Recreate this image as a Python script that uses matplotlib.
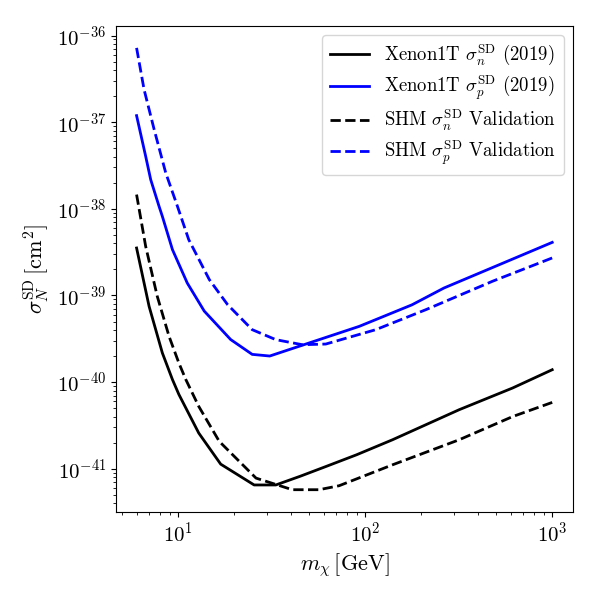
import numpy as np
import matplotlib
matplotlib.use("Agg")
import matplotlib.pyplot as plt

plt.rcParams['font.family'] = 'serif'
plt.rcParams['font.serif'] = ['cmr10', 'DejaVu Serif']
plt.rcParams['mathtext.fontset'] = 'cm'
plt.rcParams['axes.formatter.use_mathtext'] = True

# Xenon1T 2019 limits
m_xe_n = [6, 7.0, 8.24, 9.33, 10.1, 12.9, 16.9, 25.5, 33.3, 45, 61.6, 90, 140, 318, 614, 1000]
sig_xe_n = [3.53e-39, 7.48e-40, 2.17e-40, 1.07e-40, 7.2e-41, 2.58e-41, 1.13e-41,
            6.5e-42, 6.5e-42, 8.2e-42, 1.06e-41, 1.45e-41, 2.16e-41, 4.8e-41,
            8.55e-41, 1.39e-40]

m_xe_p = [6, 6.71, 7.14, 7.91, 8.24, 9.33, 11.2, 13.8, 19.1, 24.9, 30.9, 93, 178, 264, 1000]
sig_xe_p = [1.19e-37, 4.04e-38, 2.17e-38, 1.07e-38, 8.18e-39, 3.38e-39, 1.39e-39, 6.6e-40,
            3.1e-40, 2.09e-40, 2.0e-40, 4.4e-40, 7.8e-40, 1.22e-39, 4.1e-39]

# SHM validation runs
m_shm_n = [6, 6.71, 7.74, 8.95, 10.1, 11.0, 12.9, 16.6, 26.1, 40.8, 56.7, 72.6,
           140, 318, 614, 1000]
sig_shm_n = [1.46e-38, 3.69e-39, 9.77e-40, 3.37e-40, 1.66e-40, 1.07e-40, 5.24e-41,
             2.07e-41, 7.8e-42, 5.73e-42, 5.73e-42, 6.37e-42, 1.11e-41, 2.16e-41,
             4.0e-41, 5.83e-41]

m_shm_p = [6, 6.58, 7.45, 8.59, 9.92, 11.4, 14.7, 18.4, 24.9, 33.3, 46.2, 61.6,
           114, 211, 480, 1000]
sig_shm_p = [7.2e-37, 2.38e-37, 8.22e-38, 2.6e-38, 1.07e-38, 4.41e-39, 1.52e-39,
             7.83e-40, 4.03e-40, 3.09e-40, 2.7e-40, 2.75e-40, 4.03e-40, 6.85e-40,
             1.46e-39, 2.71e-39]

fig, ax = plt.subplots(figsize=(6, 6), dpi=100)
fig.subplots_adjust(left=0.193, right=0.955, top=0.957, bottom=0.147)

ax.plot(m_xe_n, sig_xe_n, 'k-', lw=2, label=r'Xenon1T $\sigma_n^{\rm SD}$ (2019)')
ax.plot(m_xe_p, sig_xe_p, 'b-', lw=2, label=r'Xenon1T $\sigma_p^{\rm SD}$ (2019)')
ax.plot(m_shm_n, sig_shm_n, 'k--', lw=2, label=r'SHM $\sigma_n^{\rm SD}$ Validation')
ax.plot(m_shm_p, sig_shm_p, 'b--', lw=2, label=r'SHM $\sigma_p^{\rm SD}$ Validation')

ax.set_xscale('log')
ax.set_yscale('log')
ax.set_xlabel(r'$m_\chi\,[\rm GeV]$', fontsize=16)
ax.set_ylabel(r'$\sigma_N^{\rm SD}\,[\rm cm^2]$', fontsize=16)
ax.tick_params(labelsize=15)
ax.legend(loc='upper right', fontsize=13.5, labelspacing=0.28, handlelength=2.1)

plt.savefig('out.png')
